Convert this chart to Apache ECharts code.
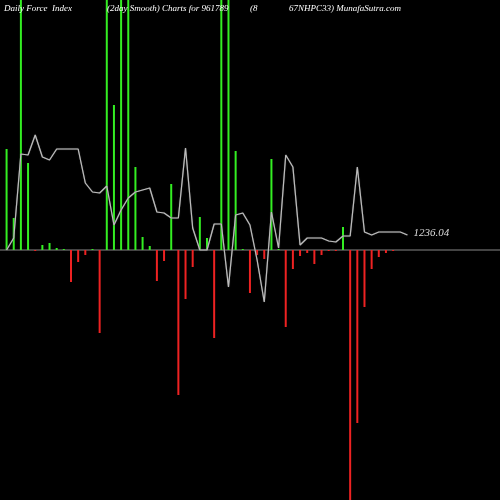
<!DOCTYPE html>
<html>
<head>
<meta charset="utf-8">
<script src="https://cdn.jsdelivr.net/npm/echarts@6/dist/echarts.min.js"></script>
<style>html,body{margin:0;padding:0;background:#000}#c{width:500px;height:500px}</style>
</head>
<body>
<div id="c"></div>
<script>
// force index bars (scaled), index line, last value
var forceBars = [101, 32, 300, 87, -1, 5, 7, 2, 1, -32, -12, -5, 1, -83, 300, 145, 300, 300, 83, 13,
    4, -31, -11, 66, -145, -49, -17, 33, 12, -88, 300, 300, 99, 1, -43, -5, -9, 91, 1, -77,
    -19, -6, -3, -14, -5, -1, -1, 23, -250, -173, -57, -19, -7, -3, -1];
var lineVals = [0, 12, 96, 95, 115, 93, 90, 101, 101, 101, 101, 67, 58, 57, 64, 25, 40, 52, 58, 60,
    62, 38, 37, 32, 32, 102, 22, 0, 0, 26, 26, -37, 35, 37, 25, -10, -52, 38, 2, 95,
    83, 5, 12, 12, 12, 9, 8, 14, 14, 83, 18, 15, 18, 18, 18, 18, 15];
var lastLabel = '1236.04';
var cats = lineVals.map(function (v, i) { return i; });

var chart = echarts.init(document.getElementById('c'));
var ttl = { fill: '#fff', font: 'italic 9px "Liberation Serif"' };
chart.setOption({
    backgroundColor: '#000',
    animation: false,
    grid: { left: 3, width: 408, top: 0, bottom: 0 },
    xAxis: { type: 'category', data: cats, show: false },
    yAxis: { type: 'value', min: -250, max: 250, show: false },
    graphic: [
        { type: 'line', z: 0, shape: { x1: 0, y1: 250, x2: 500, y2: 250 }, style: { stroke: '#888', lineWidth: 1 } },
        { type: 'text', left: 4, top: 4, z: 10, style: Object.assign({ text: 'Daily Force  Index' }, ttl) },
        { type: 'text', left: 107, top: 4, z: 10, style: Object.assign({ text: '(2day Smooth) Charts for 961789' }, ttl) },
        { type: 'text', left: 250, top: 4, z: 10, style: Object.assign({ text: '(8' }, ttl) },
        { type: 'text', left: 289, top: 4, z: 10, style: Object.assign({ text: '67NHPC33) MunafaSutra.com' }, ttl) }
    ],
    series: [
        {
            type: 'bar',
            barWidth: 2,
            clip: true,
            data: forceBars.map(function (v) {
                return { value: v, itemStyle: { color: v >= 0 ? '#33ee22' : '#ee2222' } };
            })
        },
        {
            type: 'line',
            data: lineVals,
            symbol: 'none',
            lineStyle: { color: '#bbbbbb', width: 1.2, shadowColor: '#666', shadowBlur: 1 },
            endLabel: {
                show: true,
                formatter: lastLabel,
                color: '#ddd',
                fontFamily: 'Liberation Serif',
                fontStyle: 'italic',
                fontSize: 11,
                distance: 6,
                offset: [0, -2]
            }
        }
    ]
});
</script>
</body>
</html>
